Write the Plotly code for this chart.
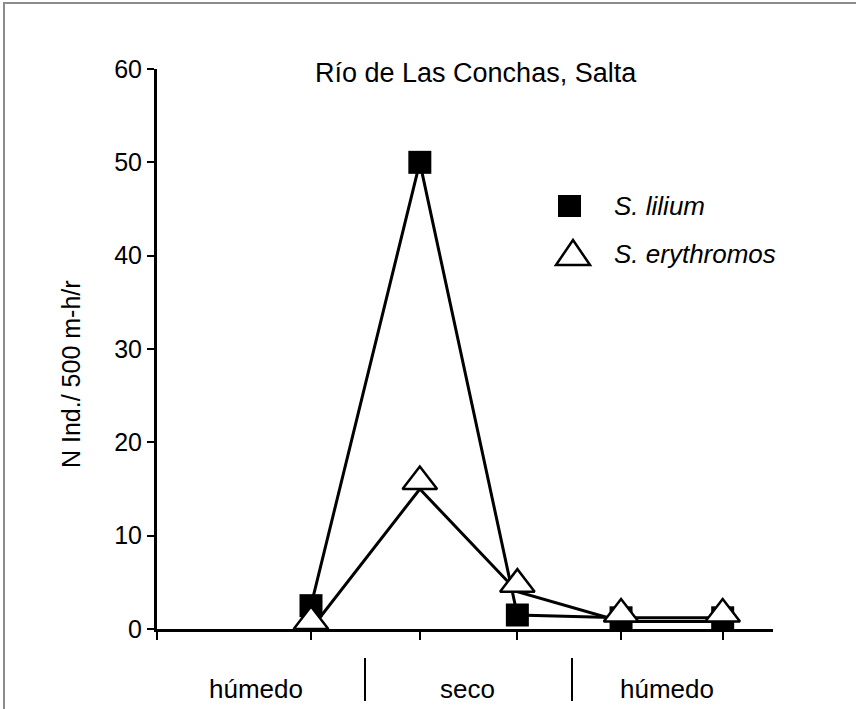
import plotly.graph_objects as go

# ---- data ----
x_vals = [1.5, 2.56, 3.51, 4.52, 5.51]
s_lilium = [2.5, 50, 1.5, 1.2, 1.2]
s_erythromos = [0, 15, 4, 0.8, 0.8]
y_ticks = [0, 10, 20, 30, 40, 50, 60]
x_ticks = [0] + x_vals
season_labels = ["húmedo", "seco", "húmedo"]
chart_title = "Río de Las Conchas, Salta"
y_title = "N Ind./ 500 m-h/r"
series_names = ["S. lilium", "S. erythromos"]

# ---- geometry ----
W, H = 856, 709
L, R, T, B = 157, 83, 69, 80
PW = W - L - R
PH = H - T - B
Y0 = T + PH
YMAX = 60
FONT = "Liberation Sans, Arial, sans-serif"

def px(x):
    return (x - L) / PW

def py(y):
    return (Y0 - y) / PH

tri_size = 30
tri_shift = (tri_size / 4) / (PH / YMAX)   # base of triangle sits on the value

fig = go.Figure()
fig.add_trace(go.Scatter(x=x_vals, y=s_erythromos, mode="lines",
                         line=dict(color="black", width=3), showlegend=False))
fig.add_trace(go.Scatter(x=x_vals, y=s_lilium, mode="lines",
                         line=dict(color="black", width=3), showlegend=False))
fig.add_trace(go.Scatter(x=x_vals, y=s_erythromos, mode="markers", yaxis="y2",
                         name=series_names[1], cliponaxis=False,
                         marker=dict(symbol="triangle-up", size=tri_size, color="white",
                                     line=dict(color="black", width=2.5)),
                         showlegend=False))
fig.add_trace(go.Scatter(x=x_vals, y=s_lilium, mode="markers",
                         name=series_names[0], cliponaxis=False,
                         marker=dict(symbol="square", size=23, color="black",
                                     line=dict(color="black", width=0)),
                         showlegend=False))

shapes = []
# frame lines of the original image
shapes.append(dict(type="line", xref="paper", yref="paper", x0=px(3), x1=px(W), y0=py(3), y1=py(3),
                   line=dict(color="#8c8c8c", width=2)))
shapes.append(dict(type="line", xref="paper", yref="paper", x0=px(4), x1=px(4), y0=py(3), y1=py(H),
                   line=dict(color="#8c8c8c", width=2)))
# season separators
for sx in (365, 572):
    shapes.append(dict(type="line", xref="paper", yref="paper", x0=px(sx), x1=px(sx),
                       y0=py(658), y1=py(701), line=dict(color="black", width=2)))
# legend symbols
shapes.append(dict(type="rect", xref="paper", yref="paper", x0=px(558), x1=px(581),
                   y0=py(195), y1=py(217), fillcolor="black", line=dict(color="black", width=0)))
tri_path = "M {a},{b} L {c},{b} L {d},{e} Z".format(a=px(556), b=py(265), c=px(590),
                                                     d=px(573), e=py(240))
shapes.append(dict(type="path", xref="paper", yref="paper", path=tri_path, fillcolor="white",
                   line=dict(color="black", width=2.5)))

annotations = []
annotations.append(dict(text=chart_title, xref="paper", yref="paper", x=px(476), y=py(73),
                        xanchor="center", yanchor="middle", showarrow=False,
                        font=dict(family=FONT, size=27, color="black")))
annotations.append(dict(text=y_title, xref="paper", yref="paper", x=px(71), y=py(374),
                        xanchor="center", yanchor="middle", textangle=-90, showarrow=False,
                        font=dict(family=FONT, size=25, color="black")))
annotations.append(dict(text="<i>%s</i>" % series_names[0], xref="paper", yref="paper",
                        x=px(612), y=py(206), xanchor="left", yanchor="middle", showarrow=False,
                        font=dict(family=FONT, size=26, color="black")))
annotations.append(dict(text="<i>%s</i>" % series_names[1], xref="paper", yref="paper",
                        x=px(612), y=py(254), xanchor="left", yanchor="middle", showarrow=False,
                        font=dict(family=FONT, size=26, color="black")))
for lab, cx in zip(season_labels, (256, 467, 667)):
    annotations.append(dict(text=lab, xref="paper", yref="paper", x=px(cx), y=py(689),
                            xanchor="center", yanchor="middle", showarrow=False,
                            font=dict(family=FONT, size=26, color="black")))

fig.update_layout(
    width=W, height=H,
    margin=dict(l=L, r=R, t=T, b=B, pad=0),
    paper_bgcolor="white", plot_bgcolor="white",
    showlegend=False,
    font=dict(family=FONT, size=22, color="black"),
    xaxis=dict(range=[0, 6], showgrid=False, zeroline=False, showline=True, linecolor="black",
               linewidth=3, ticks="outside", ticklen=8, tickwidth=2, tickcolor="black",
               tickvals=x_ticks, showticklabels=False, fixedrange=True),
    yaxis=dict(range=[0, YMAX], showgrid=False, zeroline=False, showline=True, linecolor="black",
               linewidth=3, ticks="outside", ticklen=7, tickwidth=2, tickcolor="black",
               tickvals=y_ticks, tickfont=dict(family=FONT, size=25, color="black"),
               ticklabelstandoff=0, fixedrange=True),
    yaxis2=dict(range=[-tri_shift, YMAX - tri_shift], overlaying="y", visible=False,
                fixedrange=True),
    shapes=shapes, annotations=annotations,
)

fig.write_html("out.html")
